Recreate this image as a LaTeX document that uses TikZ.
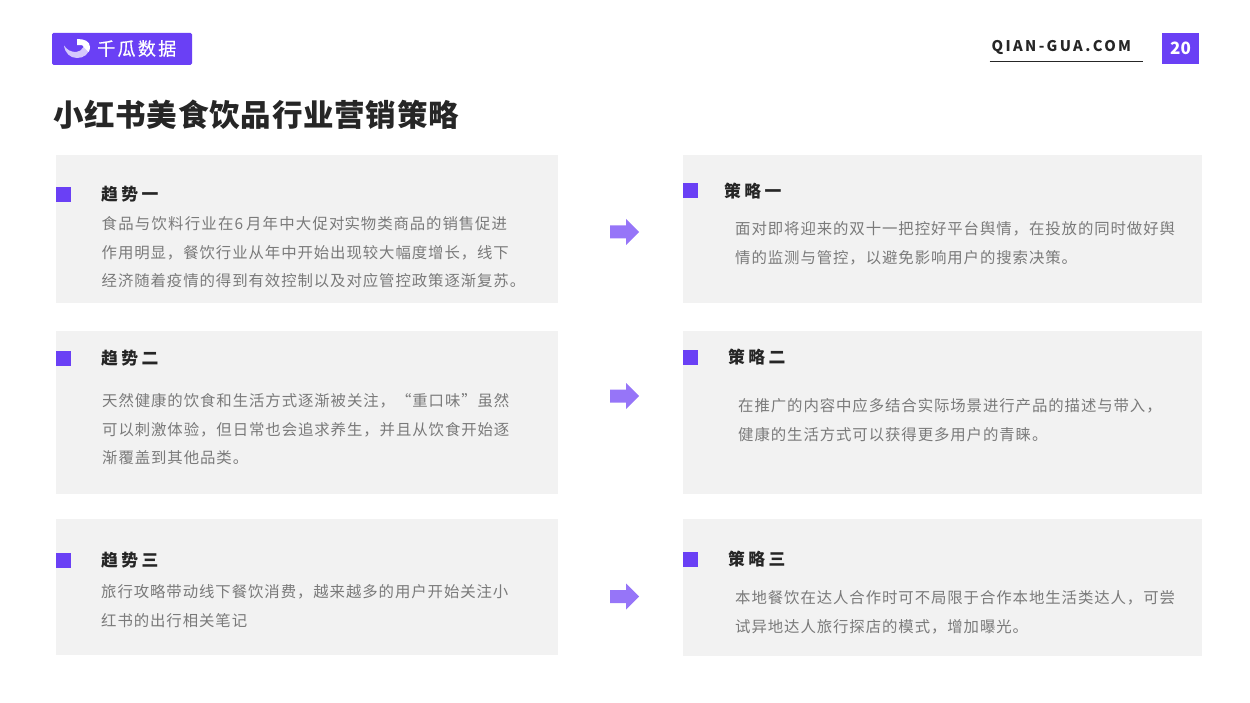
\documentclass[tikz,border=0pt]{standalone}
\usepackage{fontspec}
\setmainfont{Noto Sans CJK SC}
\newfontfamily\bodyf[LetterSpace=6]{Noto Sans CJK SC}
\newfontfamily\bodyg[LetterSpace=8]{Noto Sans CJK SC}
\newfontfamily\headf[LetterSpace=20]{Noto Sans CJK SC}
\newfontfamily\titlef[LetterSpace=2.5]{Noto Sans CJK SC}
\newfontfamily\urlf[LetterSpace=16]{Noto Sans CJK SC}
\newfontfamily\logof[LetterSpace=13,FakeBold=0.6]{Noto Sans CJK SC}
\definecolor{vio}{HTML}{6A40F5}
\definecolor{arrowv}{HTML}{9675F8}
\definecolor{panel}{HTML}{F2F2F2}
\definecolor{bodyc}{HTML}{7A7A7A}
\definecolor{headc}{HTML}{262626}
\tikzset{
  panelbox/.style={fill=panel,draw=none},
  bullet/.style={fill=vio,draw=none},
  headt/.style={anchor=west,inner sep=0pt,text=headc,font=\headf\bfseries\fontsize{16.8}{18}\selectfont},
  bodyt/.style={anchor=west,inner sep=0pt,text=bodyc,font=\bodyf\fontsize{15.4}{18}\selectfont},
  arrowshape/.style={fill=arrowv,draw=none}
}
\newcommand{\arrowat}[2]{\fill[arrowshape] (#1,#2-6.5) -- ++(16,0) -- ++(0,-6.5) -- ++(13,13) -- ++(-13,13) -- ++(0,-6.5) -- ++(-16,0) -- cycle;}
\begin{document}
\begin{tikzpicture}[x=1pt,y=-1pt]
\useasboundingbox (0,0) rectangle (1250,703);
% logo
\fill[vio,rounded corners=1.5pt] (52,33) rectangle (192,65);
\fill[white,opacity=.72] (64,45.5) .. controls (65,53) and (70,58) .. (77,58) .. controls (84,58) and (89,54) .. (90,47) -- (83.5,47) .. controls (82,50) and (79,52) .. (76,52) .. controls (71,52) and (67,50) .. (64,45.5) -- cycle;
\fill[white] (77,39) .. controls (84,39) and (90,41) .. (90,47) .. controls (90,49) and (89.5,51) .. (88.5,52) -- (83.5,47) .. controls (83.5,45) and (80,44.5) .. (77,45) -- cycle;
\node[anchor=west,inner sep=0pt,text=white,font=\logof\fontsize{18}{20}\selectfont] (logo) at (97,48.5) {千瓜数据};
% header right
\node[anchor=west,inner sep=0pt,text=headc,font=\urlf\bfseries\fontsize{14.7}{17}\selectfont] (url) at (991.5,47.5) {QIAN-GUA.COM};
\draw[color=headc,line width=1.8pt] (989.5,61.5) -- (1143,61.5);
\fill[vio] (1162,33) rectangle (1199,64.5);
\node[inner sep=0pt,text=white,font=\bfseries\fontsize{17}{20}\selectfont] (page) at (1180.5,48) {20};
% title
\node[anchor=west,inner sep=0pt,text=headc,font=\titlef\bfseries\fontsize{30.5}{36}\selectfont] (title) at (53,114.5) {小红书美食饮品行业营销策略};
% panels
\fill[panelbox] (56,155.5) rectangle (557.5,303);
\fill[panelbox] (683,155.5) rectangle (1201.5,303);
\fill[panelbox] (56,330.5) rectangle (557.5,494);
\fill[panelbox] (683,330.5) rectangle (1201.5,494);
\fill[panelbox] (56,519) rectangle (557.5,655);
\fill[panelbox] (683,519) rectangle (1201.5,656);
% bullets
\fill[bullet] (56,187) rectangle (71,202);
\fill[bullet] (683,183) rectangle (698,198);
\fill[bullet] (56,351) rectangle (71,366);
\fill[bullet] (683,350) rectangle (698,365);
\fill[bullet] (56,553) rectangle (71,568);
\fill[bullet] (683,552) rectangle (698,567);
% arrows
\arrowat{610}{232}
\arrowat{610}{396}
\arrowat{610}{596.5}
% left texts
\node[headt] (h1) at (101,194.5) {趋势一};
\node[bodyt] (a1) at (101.5,224) {{\bodyg 食品与饮料行业在\kern1pt 6\kern3pt 月年中大促对}实物类商品的销售促进};
\node[bodyt] (a2) at (101.5,253) {作用明显，餐饮行业从年中开始出现较大幅度增长，线下};
\node[bodyt] (a3) at (101.5,281) {经济随着疫情的得到有效控制以及对应管控政策逐渐复苏。};
\node[headt] (h2) at (101,358.5) {趋势二};
\node[bodyt] (b1) at (102,400.5) {天然健康的饮食和生活方式逐渐被关注，“重口味”虽然};
\node[bodyt] (b2) at (102,429.5) {可以刺激体验，但日常也会追求养生，并且从饮食开始逐};
\node[bodyt] (b3) at (102,458) {渐覆盖到其他品类。};
\node[headt] (h3) at (101,560.5) {趋势三};
\node[bodyt] (c1) at (101,591.5) {旅行攻略带动线下餐饮消费，越来越多的用户开始关注小};
\node[bodyt] (c2) at (101,620.5) {红书的出行相关笔记};
% right texts
\node[headt] (s1) at (724,191) {策略一};
\node[bodyt] (d1) at (735,228.5) {面对即将迎来的双十一把控好平台舆情，在投放的同时做好舆};
\node[bodyt] (d2) at (735,257.5) {情的监测与管控，以避免影响用户的搜索决策。};
\node[headt] (s2) at (728,357.5) {策略二};
\node[bodyt] (e1) at (738,405.5) {在推广的内容中应多结合实际场景进行产品的描述与带入，};
\node[bodyt] (e2) at (738,434.5) {健康的生活方式可以获得更多用户的青睐。};
\node[headt] (s3) at (728,559.5) {策略三};
\node[bodyt] (f1) at (735,597.5) {本地餐饮在达人合作时可不局限于合作本地生活类达人，可尝};
\node[bodyt] (f2) at (735,626.5) {试异地达人旅行探店的模式，增加曝光。};
\end{tikzpicture}
\end{document}
